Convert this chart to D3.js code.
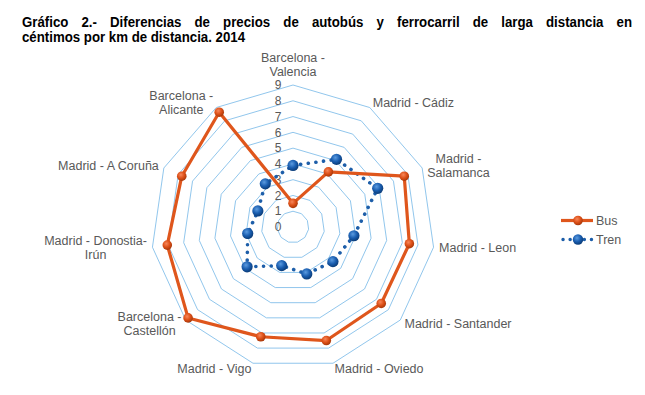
<!DOCTYPE html>
<meta charset="utf-8">
<style>
    body { margin: 0; background: #fff; }
    text { font-family: "Liberation Sans", Arial, sans-serif; }
</style>
<script src="https://cdn.jsdelivr.net/npm/d3@7"></script>
<body>
<script>
var categories = [
    ["Barcelona -", "Valencia"],
    ["Madrid - Cádiz"],
    ["Madrid -", "Salamanca"],
    ["Madrid - Leon"],
    ["Madrid - Santander"],
    ["Madrid - Oviedo"],
    ["Madrid - Vigo"],
    ["Barcelona -", "Castellón"],
    ["Madrid - Donostia-", "Irún"],
    ["Madrid - A Coruña"],
    ["Barcelona -", "Alicante"]
];
var busValues  = [1.5, 4.15, 7.75, 7.45, 7.4, 7.5, 7.25, 8.8, 8.05, 7.75, 8.65];
var trenValues = [3.9, 5.1, 5.9, 3.9, 3.35, 3.1, 2.55, 3.85, 2.9, 2.45, 3.25];
var ticks = [0, 1, 2, 3, 4, 5, 6, 7, 8, 9];
var titleLine1 = "Gráfico 2.- Diferencias de precios de autobús y ferrocarril de larga distancia en";
var titleLine2 = "céntimos por km de distancia. 2014";

var width = 645, height = 395;
var cx = 293, cy = 227, R = 142;
var busColor = "#df561c", trenColor = "#1d5ea9", gridColor = "#84c0ea", labelColor = "#595959";

var svg = d3.select("body").append("svg")
    .attr("width", width)
    .attr("height", height);

var defs = svg.append("defs");
function ballGradient(id, light, mid, dark) {
    var g = defs.append("radialGradient").attr("id", id)
        .attr("cx", "40%").attr("cy", "35%").attr("r", "65%");
    g.append("stop").attr("offset", "0%").attr("stop-color", light);
    g.append("stop").attr("offset", "55%").attr("stop-color", mid);
    g.append("stop").attr("offset", "100%").attr("stop-color", dark);
}
ballGradient("busBall", "#f7875a", "#dd5018", "#a8380a");
ballGradient("trenBall", "#5b9be0", "#1a5eb0", "#0b3c78");

// title: second line sets the glyph width, first line justified
var t1 = svg.append("g").attr("font-weight", "bold").attr("font-size", "14px").attr("fill", "#000");
var l2 = t1.append("text").attr("x", 22).attr("y", 42).text(titleLine2);
var squeeze = 223 / l2.node().getComputedTextLength();
l2.attr("textLength", 223).attr("lengthAdjust", "spacingAndGlyphs");
var words = titleLine1.split(" ");
var wEls = words.map(function(w) { return t1.append("text").attr("y", 27).text(w); });
var wLens = wEls.map(function(e) { return e.node().getComputedTextLength() * squeeze; });
wEls.forEach(function(e, i) { e.attr("textLength", wLens[i]).attr("lengthAdjust", "spacingAndGlyphs"); });
var left = 22, right = 632;
var gap = (right - left - d3.sum(wLens)) / (words.length - 1);
var xp = left;
wEls.forEach(function(e, i) { e.attr("x", xp); xp += wLens[i] + gap; });

var r = d3.scaleLinear().domain([0, 9]).range([0, R]);
var n = categories.length;
var angle = function(i) { return i * 2 * Math.PI / n; };
function pt(i, v) {
    return [cx + r(v) * Math.sin(angle(i)), cy - r(v) * Math.cos(angle(i))];
}

// grid polygons
var grid = svg.append("g");
ticks.slice(1).forEach(function(t) {
    grid.append("path")
        .attr("d", d3.line()(d3.range(n).map(function(i) { return pt(i, t); })) + "Z")
        .attr("fill", "none")
        .attr("stroke", gridColor)
        .attr("stroke-width", 0.9);
});

// tick labels
svg.append("g").selectAll("text")
    .data(ticks)
    .enter().append("text")
    .attr("x", cx - 15)
    .attr("y", function(d) { return cy - r(d); })
    .attr("dy", "0.35em")
    .attr("text-anchor", "middle")
    .attr("font-size", "12px")
    .attr("fill", labelColor)
    .text(function(d) { return d; });

// category labels
var lh = 14;
var labG = svg.append("g").attr("font-size", "12.5px").attr("fill", labelColor);
categories.forEach(function(lines, i) {
    var p = pt(i, 9.35);
    var s = Math.sin(angle(i));
    var g = labG.append("g");
    var els = lines.map(function(l, k) {
        return g.append("text").attr("text-anchor", "middle").attr("y", k * lh).attr("dy", "0.35em").text(l);
    });
    var bw = d3.max(els, function(e) { return e.node().getComputedTextLength(); });
    var bh = (lines.length - 1) * lh;
    var bx, by;
    if (Math.abs(s) < 0.1) { bx = p[0]; by = p[1] - bh - 8; }
    else {
        bx = s > 0 ? p[0] + bw / 2 : p[0] - bw / 2;
        by = p[1] - bh / 2;
    }
    g.attr("transform", "translate(" + bx + "," + by + ")");
});

var line = d3.line().x(function(d) { return d[0]; }).y(function(d) { return d[1]; });

function series(values, color, grad, dotted, rad) {
    var pts = values.map(function(v, i) { return pt(i, v); });
    var path = svg.append("path")
        .attr("d", line(pts) + "Z")
        .attr("fill", "none")
        .attr("stroke", color)
        .attr("stroke-linejoin", "round");
    if (dotted) {
        path.attr("stroke-width", 3.6).attr("stroke-dasharray", "0.1,7.6").attr("stroke-linecap", "round");
    } else {
        path.attr("stroke-width", 3.2);
    }
    svg.append("g").selectAll("circle")
        .data(pts)
        .enter().append("circle")
        .attr("cx", function(d) { return d[0]; })
        .attr("cy", function(d) { return d[1]; })
        .attr("r", rad)
        .attr("fill", "url(#" + grad + ")");
}
series(trenValues, trenColor, "trenBall", true, 5.6);
series(busValues, busColor, "busBall", false, 4.8);

// legend
var leg = svg.append("g").attr("font-size", "12.5px").attr("fill", labelColor);
[["Bus", busColor, "busBall", false, 220.5, 4.8], ["Tren", trenColor, "trenBall", true, 239.5, 5.2]].forEach(function(d) {
    var l = leg.append("line")
        .attr("x1", 561).attr("x2", 593)
        .attr("y1", d[4]).attr("y2", d[4])
        .attr("stroke", d[1]);
    if (d[3]) l.attr("stroke-width", 3.4).attr("stroke-dasharray", "0.1,7").attr("stroke-linecap", "round").attr("x1", 563);
    else l.attr("stroke-width", 3.2);
    leg.append("circle").attr("cx", 578).attr("cy", d[4]).attr("r", d[5]).attr("fill", "url(#" + d[2] + ")");
    leg.append("text").attr("x", 596).attr("y", d[4]).attr("dy", "0.35em").attr("fill", labelColor).text(d[0]);
});
</script>
</body>
